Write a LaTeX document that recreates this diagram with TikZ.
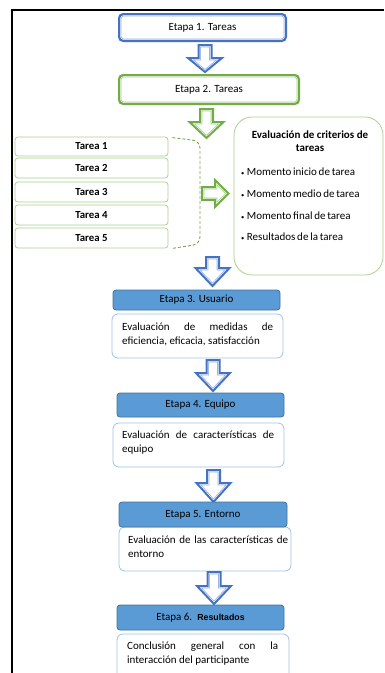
\documentclass[tikz,border=0pt]{standalone}
\usepackage{fontspec}
\setmainfont{Carlito}
\newfontfamily\arialfont{Liberation Sans}
\definecolor{cBlue}{HTML}{4472C4}
\definecolor{cBlueL}{HTML}{9DB4E0}
\definecolor{cGreen}{HTML}{70AD47}
\definecolor{cGreenL}{HTML}{A9D18E}
\definecolor{cStage}{HTML}{5B9BD5}
\definecolor{cStageD}{HTML}{41719C}
\definecolor{cDesc}{HTML}{9DC3E6}
\definecolor{cText}{HTML}{000000}
\newcommand\tightsp{\spaceskip=0.16em plus 0.05em\relax}
\newcommand\nohyph{\hyphenpenalty=10000\relax\exhyphenpenalty=10000\relax}
\tikzset{
  fancybox/.style n args={2}{draw=#1, line width=2.2pt, rounded corners=4pt, fill=white,
    inner sep=0pt, font=\fontsize{11}{13}\selectfont, text=cText,
    path picture={
      \draw[#2, line width=4.6pt] (path picture bounding box.south west) rectangle (path picture bounding box.north east);
      \draw[white, line width=3pt] (path picture bounding box.south west) rectangle (path picture bounding box.north east);
    }},
  tareabox/.style={draw=cGreenL, line width=0.8pt, rounded corners=3pt, fill=white,
    minimum width=153pt, inner sep=0pt, text=cText,
    font=\fontsize{10.8}{12}\selectfont\bfseries},
  evalbox/.style={draw=cGreenL, line width=0.8pt, rounded corners=18pt, fill=white, inner sep=0pt},
  stagebox/.style={draw=cStageD, line width=0.8pt, fill=cStage, rounded corners=3pt,
    inner sep=0pt, minimum width=167pt, text=cText, font=\fontsize{11}{13}\selectfont},
  descbox/.style={draw=cDesc, line width=0.8pt, fill=white, rounded corners=6pt, inner sep=0pt},
  desctext/.style={anchor=west, inner sep=0pt, text width=#1, text=cText,
    font=\fontsize{11}{14}\selectfont\nohyph},
  bullettext/.style={anchor=west, inner sep=0pt, text=cText,
    font=\fontsize{11}{13}\selectfont\tightsp},
  darr/.style n args={4}{insert path={(#1-6.5,#2) -- (#1+6.5,#2) -- (#1+6.5,#3) -- (#1+17,#3) -- (#1,#4) -- (#1-17,#3) -- (#1-6.5,#3) -- cycle}},
  rarr/.style={insert path={(202,187) -- (215,187) -- (215,180) -- (228.5,193.5) -- (215,207) -- (215,200) -- (202,200) -- cycle}}
}
\newcommand\blockarr[3]{%
  \path[fill=white,#1];
  \begin{scope}
    \clip[#1];
    \draw[#3,line width=4.6pt,#1];
    \draw[white,line width=3pt,#1];
  \end{scope}
  \draw[#2,line width=2pt,line join=miter,#1];}
\newcommand\mybul{{\fontsize{6.5}{7}\selectfont\textbullet}\hspace{2.5pt}}
\begin{document}
\begin{tikzpicture}[x=1pt,y=-1pt]
\useasboundingbox (0,0) rectangle (384,673);
\clip (0,0) rectangle (384,673);
% frame
\draw[line width=2pt] (12,674) -- (12,10) -- (384,10);

% Etapa 1 and 2
\node[fancybox={cBlue}{cBlueL}, minimum width=166.8pt, minimum height=26.8pt] (e1) at (202.5,27.5) {Etapa 1. Tareas};
\blockarr{darr={205}{45}{58}{72}}{cBlue}{cBlueL}
\node[fancybox={cGreen}{cGreenL}, minimum width=179.8pt, minimum height=28.8pt] (e2) at (209,89.5) {Etapa 2. Tareas};
\blockarr{darr={206.5}{109}{122}{138}}{cGreen}{cGreenL}

% Tareas
\node[tareabox, minimum height=19pt] (t1) at (91.5,146.5) {Tarea 1};
\node[tareabox, minimum height=20pt] (t2) at (91.5,168) {Tarea 2};
\node[tareabox, minimum height=20pt] (t3) at (91.5,192) {Tarea 3};
\node[tareabox, minimum height=20pt] (t4) at (91.5,215) {Tarea 4};
\node[tareabox, minimum height=20pt] (t5) at (91.5,238) {Tarea 5};
\draw[cGreen, line width=0.9pt, dash pattern=on 3pt off 2pt, rounded corners=7pt]
  ([xshift=4pt,yshift=-1pt]t1.north east) -- (200,141) -- (200,244) -- ([xshift=4pt,yshift=0pt]t5.south east);
\blockarr{rarr}{cGreen}{cGreenL}

% Evaluation box
\node[evalbox, minimum width=149pt, minimum height=158pt] (ev) at (308.5,196) {};
\node[align=center, inner sep=0pt, text=cText, font=\fontsize{11}{13}\selectfont\bfseries] (evt) at (310,141.5) {Evaluación de criterios de\\tareas};
\node[bullettext] (b1) at (241,172) {\mybul Momento inicio de tarea};
\node[bullettext] (b2) at (241,193.5) {\mybul Momento medio de tarea};
\node[bullettext] (b3) at (241,216) {\mybul Momento final de tarea};
\node[bullettext] (b4) at (241,237) {\mybul Resultados de la tarea};

% Etapa 3
\blockarr{darr={212.5}{257}{268}{286}}{cBlue}{cBlueL}
\node[descbox, minimum width=171pt, minimum height=44pt] (d3) at (197.5,336) {};
\node[stagebox, minimum height=20pt] (s3) at (196.5,300) {Etapa 3. Usuario};
\node[desctext=151pt, align=justify] (d3t) at (122,334) {Evaluación de medidas de eficiencia, eficacia, satisfacción};

% Etapa 4
\blockarr{darr={213}{360}{373}{391}}{cBlue}{cBlueL}
\node[stagebox, minimum height=24pt] (s4) at (200.5,405) {Etapa 4. Equipo};
\node[descbox, minimum width=171pt, minimum height=44pt] (d4) at (198.5,445) {};
\node[desctext=152pt, align=justify] (d4t) at (122,443) {Evaluación de características de equipo};

% Etapa 5
\blockarr{darr={213.5}{470}{483}{502}}{cBlue}{cBlueL}
\node[descbox, minimum width=172pt, minimum height=44pt] (d5) at (205,549) {};
\node[stagebox, minimum width=168pt, minimum height=25pt] (s5) at (203,514.5) {Etapa 5. Entorno};
\node[desctext=160pt, align=left] (d5t) at (128,546.5) {Evaluación de las características de entorno};

% Etapa 6
\blockarr{darr={214}{572}{586}{604}}{cBlue}{cBlueL}
\node[stagebox, minimum height=25pt] (s6) at (200.5,617.5) {Etapa 6.\hspace{5pt}{\arialfont\fontsize{8.8}{10}\selectfont\bfseries Resultados}};
\node[descbox, minimum width=172pt, minimum height=52pt] (d6) at (203,660) {};
\node[desctext=151pt, align=justify] (d6t) at (127,654) {Conclusión general con la interacción del participante};
\end{tikzpicture}
\end{document}
